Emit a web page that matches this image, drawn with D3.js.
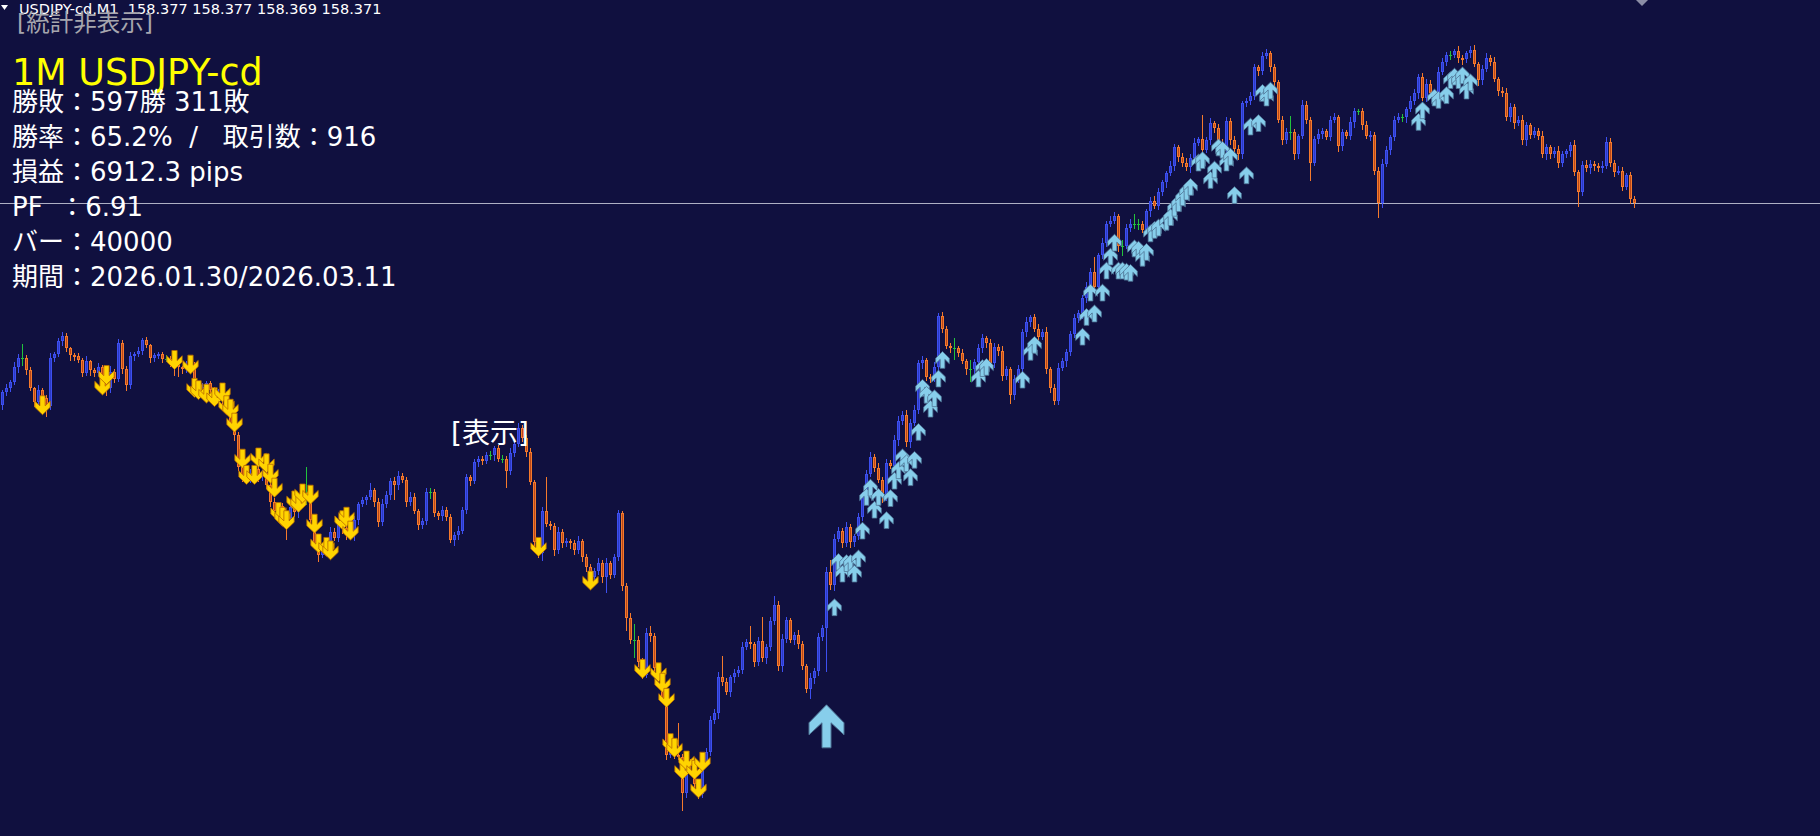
<!DOCTYPE html>
<html><head><meta charset="utf-8">
<script src="https://cdn.jsdelivr.net/npm/d3@7"></script>
<style>
html,body{margin:0;padding:0;background:#10103f;overflow:hidden}
svg{display:block}
text{white-space:pre}
</style></head><body>
<script>
// ---------------- data ----------------
const symbolHeader = "USDJPY-cd,M1  158.377 158.377 158.369 158.371";
const toggleLabel = "[統計非表示]";
const chartTitle = "1M USDJPY-cd";
const statLines = [
  "勝敗：597勝 311敗",
  "勝率：65.2%  /   取引数：916",
  "損益：6912.3 pips",
  "PF  ：6.91",
  "バー：40000",
  "期間：2026.01.30/2026.03.11"
];
const showLabel = "[表示]";
const bidPrice = 158.371;
const priceTop = 158.546, priceBottom = 157.826;
const firstOpen = 158.197;
const closes = [
158.208,158.212,158.217,158.230,158.238,158.238,158.227,158.212,158.200,158.210,
158.203,158.196,158.238,158.241,158.252,158.257,158.246,158.240,158.239,158.236,
158.225,158.235,158.227,158.225,158.230,158.216,158.212,158.226,158.220,158.251,
158.228,158.214,158.239,158.241,158.244,158.253,158.249,158.238,158.240,158.241,
158.237,158.237,158.235,158.233,158.230,158.228,158.232,158.232,158.214,158.208,
158.213,158.216,158.210,158.204,158.207,158.202,158.199,158.182,158.171,158.144,
158.136,158.133,158.138,158.142,158.136,158.139,158.128,158.114,158.106,158.110,
158.104,158.100,158.109,158.105,158.112,158.116,158.116,158.098,158.076,158.068,
158.072,158.080,158.088,158.083,158.096,158.091,158.085,158.085,158.098,158.112,
158.115,158.118,158.124,158.114,158.096,158.112,158.120,158.132,158.128,158.136,
158.133,158.114,158.118,158.106,158.094,158.097,158.122,158.122,158.104,158.102,
158.107,158.101,158.081,158.085,158.089,158.107,158.135,158.132,158.148,158.151,
158.149,158.154,158.154,158.160,158.151,158.151,158.140,158.156,158.164,158.177,
158.169,158.157,158.131,158.079,158.070,158.106,158.095,158.093,158.072,158.088,
158.078,158.080,158.078,158.072,158.080,158.066,158.058,158.049,158.054,158.061,
158.049,158.061,158.051,158.066,158.104,158.041,158.014,157.995,157.995,157.976,
157.965,158.001,157.998,157.971,157.962,157.945,157.896,157.905,157.896,157.894,
157.863,157.890,157.886,157.871,157.862,157.890,157.898,157.926,157.932,157.963,
157.959,157.950,157.963,157.966,157.969,157.989,157.993,157.991,157.976,157.994,
157.979,157.989,158.011,158.025,157.972,157.996,158.012,157.995,157.999,157.991,
157.972,157.953,157.962,157.968,157.997,158.005,158.053,158.042,158.082,158.089,
158.078,158.092,158.079,158.084,158.101,158.118,158.138,158.152,158.143,158.133,
158.118,158.147,158.145,158.167,158.183,158.189,158.165,158.182,158.193,158.233,
158.236,158.221,158.220,158.230,158.274,158.263,158.248,158.246,158.246,158.242,
158.235,158.228,158.228,158.234,158.246,158.255,158.251,158.233,158.247,158.244,
158.222,158.228,158.206,158.220,158.228,158.260,158.269,158.273,158.263,158.256,
158.260,158.228,158.212,158.201,158.229,158.235,158.243,158.258,158.272,158.276,
158.289,158.299,158.312,158.299,158.326,158.337,158.353,158.356,158.360,158.334,158.334,
158.350,158.353,158.353,158.353,158.348,158.364,158.373,158.369,158.381,158.389,158.397,
158.403,158.419,158.411,158.406,158.402,158.410,158.423,158.426,158.417,158.425,
158.440,158.436,158.422,158.418,158.442,158.425,158.418,158.413,158.457,158.459,
158.463,158.488,158.485,158.498,158.500,158.488,158.475,158.443,158.425,158.432,
158.432,158.413,158.429,158.456,158.443,158.406,158.426,158.431,158.433,158.428,
158.443,158.445,158.420,158.432,158.429,158.441,158.450,158.450,158.438,158.429,
158.430,158.399,158.371,158.405,158.417,158.428,158.443,158.445,158.445,158.452,
158.459,158.466,158.480,158.462,158.474,158.466,158.466,158.484,158.493,158.499,
158.499,158.502,158.496,158.495,158.500,158.503,158.491,158.477,158.487,158.496,
158.493,158.478,158.468,158.466,158.445,158.454,158.440,158.443,158.425,158.438,
158.430,158.433,158.429,158.413,158.419,158.413,158.416,158.406,158.413,158.416,
158.421,158.398,158.381,158.404,158.401,158.405,158.403,158.401,158.403,158.424,
158.406,158.398,158.399,158.385,158.395,158.375,158.371
];
// wick lengths beyond the body, in points (0.001)
const wickUpPts = [
2,3,2,4,3,12,2,3,1,4, 2,3,4,2,3,3,2,1,2,3, 2,4,1,2,3,2,3,5,2,3, 2,3,4,2,3,2,3,1,2,2,
2,3,2,4,2,1,3,6,2,3, 3,2,2,3,4,2,3,2,2,3, 2,3,4,2,3,2,4,2,3,2, 3,2,4,3,2,4,28,2,3,2,
3,2,4,3,2,3,2,3,4,2, 3,2,6,2,3,4,3,2,3,4, 3,2,4,3,2,3,4,4,3,2, 3,2,2,3,4,2,3,2,3,2,
2,3,4,2,3,3,2,4,3,5, 3,2,3,2,3,3,29,2,3,4, 2,3,2,3,4,2,3,2,3,4, 3,4,2,3,3,2,3,4,14,3,
3,4,6,3,2,3,4,3,2,27, 3,4,2,3,2,3,4,3,3,4, 18,3,2,4,3,4,3,14,2,3, 21,2,4,8,3,4,3,2,3,4,
3,2,4,3,4,3,5,11,4,3, 2,4,3,2,3,4,3,5,3,4, 2,4,3,4,5,3,4,3,4,3, 3,2,3,4,2,3,2,3,9,2,
3,2,8,3,4,3,2,3,4,3, 4,3,2,3,4,3,4,2,3,4, 3,4,2,3,4,3,2,3,4,3, 3,4,3,13,2,4,3,4,3,2,5,
3,4,9,4,3,2,3,4,3,2,2, 4,3,2,3,4,3,4,2,21,3, 4,2,3,4,3,2,4,3,2,3, 4,3,2,3,4,2,3,2,3,4,
14,3,2,4,3,2,3,4,3,2, 3,4,2,3,2,4,3,2,3,4, 3,2,3,4,3,2,3,4,3,2, 4,3,2,3,4,3,2,4,3,2,
3,2,4,3,2,3,4,2,3,4, 3,4,2,3,4,3,2,3,4,3, 2,4,3,4,3,2,3,4,3,2, 3,4,2,3,4,3,2,3,4,4,
3,2,4,3,2,3,2
];
const wickDnPts = [
3,2,3,2,4,6,3,2,4,6, 3,8,2,3,2,3,2,4,3,2, 3,2,4,3,2,4,6,4,3,2, 3,4,2,3,2,3,2,4,3,2,
3,2,4,10,8,3,2,4,3,2, 3,4,2,3,2,4,3,2,4,3, 4,3,2,3,4,3,2,4,3,2, 3,18,2,3,4,2,4,3,2,5,
2,3,4,2,3,4,3,2,4,3, 2,3,2,4,3,2,3,4,12,3, 2,4,3,2,4,3,2,5,2,3, 4,3,2,4,3,2,3,4,2,3,
3,2,3,4,2,3,13,2,3,2, 3,4,2,3,4,6,2,3,4,2, 3,2,4,3,2,3,4,2,3,2, 4,13,3,2,2,3,11,3,15,4,
3,2,4,3,2,3,4,2,3,2, 15,3,2,4,3,2,3,2,3,4, 3,2,3,4,2,3,2,3,4,3, 2,4,3,2,3,4,3,2,4,3,
2,3,8,4,3,2,37,3,4,2, 3,2,4,3,2,3,4,2,3,2, 4,3,2,3,4,2,3,4,2,3, 4,2,3,2,4,3,2,3,9,3,
2,4,10,3,2,3,4,2,3,4, 3,2,7,4,3,2,3,4,2,3, 2,3,4,3,3,2,4,3,2,3, 4,3,2,3,4,2,3,2,2,4,8,
2,3,3,4,2,3,4,2,3,3,4, 2,3,4,3,2,4,3,2,3,2, 3,4,2,3,4,3,2,4,3,2, 3,2,4,3,2,3,4,2,3,2,
6,4,3,2,3,15,2,3,4,2, 3,2,4,3,2,3,4,2,3,2, 4,3,12,3,2,4,3,2,3,4, 2,3,4,2,3,2,4,3,2,3,
4,2,3,4,2,3,2,4,3,2, 3,2,4,3,2,3,4,2,3,4, 3,2,3,2,4,3,2,4,3,2, 4,3,12,3,2,4,3,2,3,2,
3,4,2,3,2,4,3
];
const sellIdx = [10,25,26,43,47,48,49,51,53,55,56,57,58,60,61,63,64,66,67,68,69,70,71,73,74,75,77,78,79,81,82,85,86,87,134,147,160,164,165,166,167,168,170,171,173,174,175];
const sellPrice = [158.197,158.214,158.223,158.236,158.232,158.212,158.210,158.207,158.204,158.208,158.197,158.194,158.182,158.151,158.137,158.137,158.152,158.147,158.138,158.126,158.105,158.101,158.098,158.115,158.113,158.121,158.120,158.095,158.078,158.075,158.072,158.098,158.101,158.089,158.075,158.046,157.970,157.967,157.958,157.945,157.906,157.902,157.883,157.891,157.883,157.867,157.890];
const buyIdx = [208,209,210,211,212,213,214,215,216,217,218,219,221,222,223,224,225,226,227,228,229,230,231,232,233,234,235,244,245,246,255,257,258,270,271,272,273,275,276,277,278,279,280,281,282,283,284,285,286,287,288,289,291,292,293,294,295,296,297,299,300,302,303,304,305,306,307,308,311,312,314,315,316,317,354,355,358,359,361,362,363,364,365,366,367];
const buyPrice = [158.023,158.062,158.052,158.061,158.061,158.052,158.065,158.089,158.118,158.126,158.107,158.118,158.098,158.117,158.132,158.141,158.152,158.147,158.135,158.150,158.174,158.212,158.206,158.194,158.203,158.220,158.236,158.220,158.229,158.230,158.219,158.243,158.249,158.256,158.273,158.294,158.276,158.294,158.313,158.325,158.337,158.313,158.313,158.312,158.311,158.332,158.331,158.324,158.329,158.345,158.348,158.350,158.355,158.359,158.367,158.371,158.376,158.381,158.385,158.406,158.408,158.391,158.400,158.419,158.417,158.406,158.411,158.378,158.395,158.437,158.440,158.466,158.462,158.468,158.441,158.451,158.462,158.460,158.464,158.477,158.480,158.477,158.481,158.468,158.475];
const bigBuyIdx = 206, bigBuyPrice = 157.939;

// ---------------- drawing ----------------
const W = 1820, H = 836;
const BG = "#10103f", UP = "#3d4ff0", UPF = "#2c3bc4", DN = "#f57a2c", DNF = "#b9481a", DOJI = "#22c33c";
const FONT = "'DejaVu Sans','Noto Sans CJK JP',sans-serif";

const svg = d3.select("body").append("svg").attr("width", W).attr("height", H);
svg.append("rect").attr("width", W).attr("height", H).attr("fill", BG);

const n = closes.length;
const x = d3.scaleLinear().domain([0, n - 1]).range([2, 1634]);
const y = d3.scaleLinear().domain([priceTop, priceBottom]).range([0, H]);

const candles = closes.map((c, i) => {
  const o = i ? closes[i - 1] : firstOpen;
  const hi = Math.max(o, c) + (wickUpPts[i] || 0) / 1000;
  const lo = Math.min(o, c) - (wickDnPts[i] || 0) / 1000;
  return {
    i, o, c, hi, lo,
    col: c > o ? UP : c < o ? DN : DOJI,
    fill: c > o ? UPF : DNF
  };
});

// bid line
const bidY = Math.round(y(bidPrice)) + 0.5;
svg.append("line").attr("x1", 0).attr("x2", W).attr("y1", bidY).attr("y2", bidY)
  .attr("stroke", "#aeb0c4").attr("stroke-width", 1);

const gC = svg.append("g").attr("shape-rendering", "crispEdges");
gC.selectAll("line.wick").data(candles).join("line").attr("class", "wick")
  .attr("x1", d => Math.round(x(d.i)) + 0.5).attr("x2", d => Math.round(x(d.i)) + 0.5)
  .attr("y1", d => Math.round(y(d.hi))).attr("y2", d => Math.round(y(d.lo)) + 1)
  .attr("stroke", d => d.col).attr("stroke-width", 1);

const bodies = candles.filter(d => d.c !== d.o);
gC.selectAll("rect.body").data(bodies).join("rect").attr("class", "body")
  .attr("x", d => Math.round(x(d.i)) - 0.5)
  .attr("y", d => Math.round(y(Math.max(d.o, d.c))) + 0.5)
  .attr("width", 2)
  .attr("height", d => Math.max(Math.round(y(Math.min(d.o, d.c))) - Math.round(y(Math.max(d.o, d.c))) - 1, 1))
  .attr("fill", d => d.fill).attr("stroke", d => d.col).attr("stroke-width", 1);

const dojis = candles.filter(d => d.c === d.o);
gC.selectAll("line.doji").data(dojis).join("line").attr("class", "doji")
  .attr("x1", d => Math.round(x(d.i)) - 1).attr("x2", d => Math.round(x(d.i)) + 2)
  .attr("y1", d => Math.round(y(d.c)) + 0.5).attr("y2", d => Math.round(y(d.c)) + 0.5)
  .attr("stroke", DOJI).attr("stroke-width", 1);

// arrows
const arrowPath = "M0,0L-17.5,18L-17.5,30L-4.5,18L-4.5,43L4.5,43L4.5,18L17.5,30L17.5,18Z";
const smallArrowPath = "M0,0L-17.5,17L-17.5,31L-6,20L-6,43L6,43L6,20L17.5,31L17.5,17Z";
const sells = sellIdx.map((i, k) => ({ i, p: sellPrice[k] }));
const buys = buyIdx.map((i, k) => ({ i, p: buyPrice[k] }));
const sS = 0.44, sB = 0.39;
svg.append("g").selectAll("path").data(sells).join("path")
  .attr("d", smallArrowPath)
  .attr("transform", d => `translate(${Math.round(x(d.i)) + 0.5},${y(d.p) + 43 * sS / 2}) scale(${sS},${-sS})`)
  .attr("fill", "#ffd400").attr("stroke", "#b86a00").attr("stroke-width", 0.8).attr("vector-effect", "non-scaling-stroke");
svg.append("g").selectAll("path").data(buys).join("path")
  .attr("d", smallArrowPath)
  .attr("transform", d => `translate(${Math.round(x(d.i)) + 0.5},${y(d.p) - 43 * sB / 2}) scale(${sB})`)
  .attr("fill", "#87ceeb").attr("stroke", "#4f7596").attr("stroke-width", 0.8).attr("vector-effect", "non-scaling-stroke");
svg.append("path").attr("d", arrowPath)
  .attr("transform", `translate(${Math.round(x(bigBuyIdx)) + 0.5},${y(bigBuyPrice)})`)
  .attr("fill", "#87ceeb").attr("stroke", "#4f7596").attr("stroke-width", 1);

// top-right shift marker
svg.append("path").attr("d", "M1636,0L1648,0L1642,6Z").attr("fill", "#8c8ea6");

// texts
svg.append("path").attr("d", "M1,5L8,5L4.5,10Z").attr("fill", "#ffffff");
svg.append("text").attr("x", 19).attr("y", 14).attr("font-family", FONT).attr("font-size", 14.5)
  .attr("fill", "#ffffff").text(symbolHeader);
svg.append("text").attr("x", 17).attr("y", 31).attr("font-family", FONT).attr("font-size", 23.5)
  .attr("fill", "#a6a6ae").text(toggleLabel);
svg.append("text").attr("x", 12).attr("y", 85).attr("font-family", FONT).attr("font-size", 36.5)
  .attr("fill", "#ffff00").text(chartTitle);
svg.append("g").selectAll("text").data(statLines).join("text")
  .attr("x", 12).attr("y", (d, k) => 111 + k * 35)
  .attr("font-family", FONT).attr("font-size", 26).attr("fill", "#ffffff").text(d => d);
svg.append("text").attr("x", 451).attr("y", 443).attr("font-family", FONT).attr("font-size", 28)
  .attr("fill", "#ffffff").text(showLabel);
</script>
</body></html>
